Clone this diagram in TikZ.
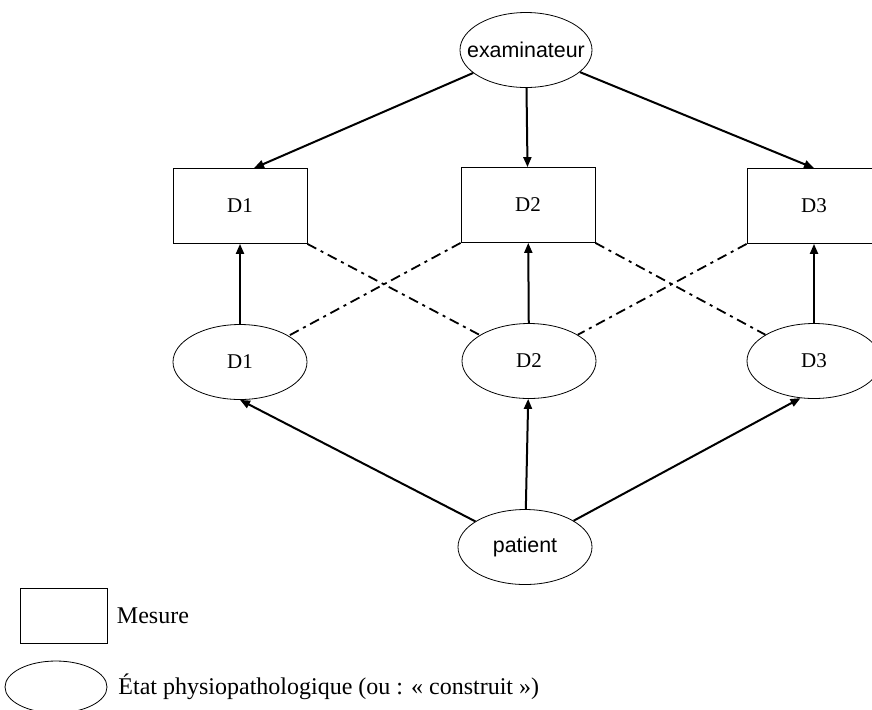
\documentclass[tikz,border=0pt]{standalone}
\usepackage{fontspec}
\setmainfont{Liberation Serif}
\newfontfamily\arialfont{Liberation Sans}
\usetikzlibrary{positioning, arrows.meta, shapes.geometric}

\begin{document}
\begin{tikzpicture}[x=0.5pt, y=-0.5pt, >={Triangle[length=5pt, width=4pt]},
    font=\fontsize{10.5}{12}\selectfont, node distance=1pt,
    mesure/.style={draw, rectangle, line width=0.4pt, minimum width=67pt, minimum height=37.5pt},
    etat/.style={draw, ellipse, line width=0.4pt, inner sep=0pt, minimum width=67pt, minimum height=37.5pt},
    fleche/.style={->, line width=1pt},
    lien/.style={line width=0.9pt, dash pattern=on 5pt off 2.5pt on 1.5pt off 2.5pt}]
    \useasboundingbox (0,0) rectangle (872,709);
    % Nodes
    \node (exam) [etat, minimum width=66pt, font=\arialfont\fontsize{10.7}{12}\selectfont] at (526,50) {\makebox[0pt]{examinateur}}; % the examiner
    \node (mbox1) [mesure] at (240,206) {D1}; % measure D1
    \node (mbox2) [mesure] at (528,205) {D2}; % measure D2
    \node (mbox3) [mesure] at (814,206) {D3}; % measure D3
    \node (etat1) [etat] at (240,362) {D1}; % state D1
    \node (etat2) [etat] at (529,361) {D2}; % state D2
    \node (etat3) [etat] at (814,361) {D3}; % state D3
    \node (patient) [etat, font=\arialfont\fontsize{10.7}{12}\selectfont] at (525,547) {\makebox[0pt]{patient}}; % the patient

    % Legend
    \node (legbox) [draw, rectangle, line width=0.4pt, minimum width=43.5pt, minimum height=27.5pt] at (64,616) {}; % legend box
    \node (legmesure) [right=1pt of legbox, font=\fontsize{12}{14}\selectfont] {Mesure};
    \node (legell) [draw, ellipse, line width=0.4pt, minimum width=51pt, minimum height=26pt] at (56,687) {}; % legend ellipse
    \node (legetat) [right=1pt of legell, xshift=1pt, font=\fontsize{12}{14}\selectfont] {État physiopathologique (ou : « construit »)};

    % Arrows
    \draw[fleche] (exam) -- ([xshift=7pt]mbox1.north); % examiner to D1
    \draw[fleche] (exam) -- (mbox2); % examiner to D2
    \draw[fleche] (exam) -- (mbox3.north); % examiner to D3
    \draw[fleche] (etat1) -- (mbox1); % state to measure
    \draw[fleche] (etat2) -- (mbox2);
    \draw[fleche] (etat3) -- (mbox3);
    \draw[fleche] (patient) -- (etat1.south); % patient to states
    \draw[fleche] (patient) -- (etat2);
    \draw[fleche] (patient) -- (etat3.250);

    % Dashed links
    \draw[lien] (mbox1.south east) -- (etat2);
    \draw[lien] (mbox2.south west) -- (etat1);
    \draw[lien] (mbox2.south east) -- (etat3);
    \draw[lien] (mbox3.south west) -- (etat2);
\end{tikzpicture}
\end{document}
